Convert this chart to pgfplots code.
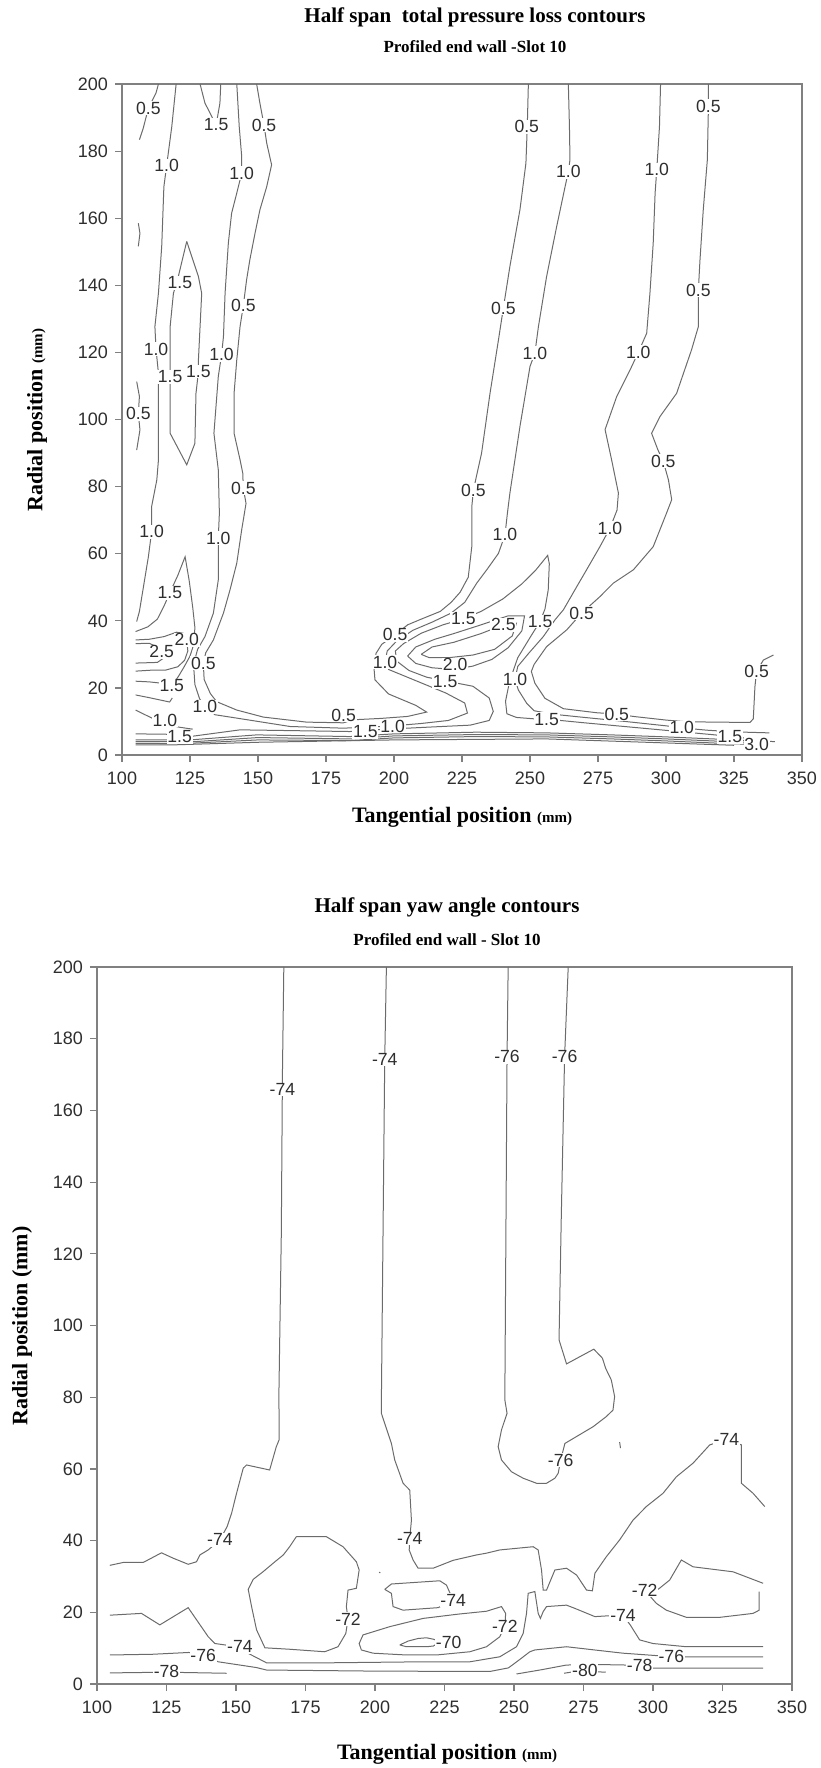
\documentclass[border=0pt]{standalone}
\usepackage{fontspec}
\setmainfont{Liberation Serif}
\newfontfamily\arial{Liberation Sans}
\usepackage{pgfplots}
\pgfplotsset{compat=1.18}
\definecolor{cline}{gray}{0.42}
\definecolor{axgray}{gray}{0.50}
\definecolor{txt}{gray}{0.18}
\pgfplotsset{
  cl/.style={cline, line width=0.5pt, mark=none},
  chart/.style={scale only axis, xmin=100, xmax=350, ymin=0, ymax=200,
    xtick={100,125,...,350}, ytick={0,20,...,200},
    xtick pos=bottom, ytick pos=left,
    tick align=outside, major tick length=3.5pt,
    axis line style={axgray, line width=0.6pt},
    every tick/.style={axgray, line width=0.6pt},
    ticklabel style={font=\arial\fontsize{9}{10}\selectfont, text=txt},
    xticklabel style={yshift=-1.5pt},
    /pgf/number format/assume math mode=true,
    clip=false},
}
\tikzset{lbl/.style={font=\arial\fontsize{8.8}{9}\selectfont, text=txt, fill=white, inner sep=0.4pt}}
\newcommand\lab[3]{\node[lbl] at (axis cs:#1,#2) {#3};}
\begin{document}
\begin{tikzpicture}
\useasboundingbox (0,0) rectangle (410pt,-884pt);
% ---------- top chart ----------
\node[font=\bfseries\fontsize{10.5}{12}\selectfont] at (237.5pt,-8.5pt) {Half span\ \ total pressure loss contours};
\node[font=\bfseries\fontsize{8.5}{10}\selectfont] at (237.5pt,-23.5pt) {Profiled end wall -Slot 10};
\begin{axis}[chart, at={(61pt,-377.5pt)}, anchor=south west, width=340pt, height=335.5pt]
% left region
\addplot[cl] coordinates {(113.4,200)(112.5,197.3)(109.7,192.8)(107.8,186.8)(106.4,183.4)};
\addplot[cl] coordinates {(106,158.5)(106.6,155.5)(106,151.6)};
\addplot[cl] coordinates {(105.4,111.3)(106.4,106.9)(106,101.7)(106.6,96.9)(105.4,90.9)};
\addplot[cl] coordinates {(119.9,200)(118.3,187.3)(116.4,175.6)(115.4,169.4)(114.6,151.6)(113.4,137.7)(112.1,127.7)(112.5,121)(113.4,113.8)(113.4,88)(112.8,82)(110.9,74.1)(110.9,66.6)(109.7,59.1)(107.9,50.2)(106.4,42.8)(105.4,39.8)};
\addplot[cl] coordinates {(128.7,200)(130.5,194.3)(134.6,187.8)(136,194.3)(136.3,200)};
\addplot[cl] coordinates {(123.8,153.1)(128.1,142.6)(129.3,137.6)(128.7,127.7)(128.1,117.8)(128.1,114.3)(127.2,107.8)(126.8,92.9)(123.8,86.5)(117.7,95.9)(117.7,107.8)(117.7,112.8)(117.7,127.7)(118.9,137.6)(120.7,142.6)(123.8,153.1)};
% 1.0 long
\addplot[cl] coordinates {(142.2,200)(143.1,187.3)(144,178.4)(144,173.4)(142.2,167.5)(140.3,161.5)(139.1,152.6)(137.9,137.7)(137.3,124.7)(136.6,119.3)(135.4,112.8)(133.8,95.9)(135.4,85)(135.8,72.1)(135.4,64.6)(135.4,52.2)(133.6,42.3)(130.5,35.3)(127.8,31.5)(126.3,27)(126.8,21)(128.5,16.8)(130.5,14.4)(134.2,12)(142.2,11)(161.8,8.5)(181.4,8)(190,8.3)(198.5,8.6)(210,9.4)(220,10.3)(227,12.5)(226,15.5)(219,18.5)(207,22.5)(198,25.5)(196.7,27.6)(197.5,31)(201,34)(207,37.2)(214,39.6)(221,42.3)(226,45.5)(230.4,51.2)(234.1,55.2)(238.4,60.1)(240.8,65.6)(241.7,72.1)(242.6,78)(246.3,97.9)(250,115.8)(251.8,119.8)(253.1,127.7)(256.1,142.6)(259.8,157.5)(262.9,169.4)(264.1,173.9)(264.7,177.4)(264.5,187.3)(264.1,200)};
% 0.5 long
\addplot[cl] coordinates {(149.5,200)(150.7,194.3)(152.2,187.8)(153.2,182.4)(155,175.9)(153.2,169.4)(150.7,162.5)(148.9,155.5)(147,147.6)(145.8,141.6)(144.6,133.9)(143.4,127.7)(142.2,117.8)(141.2,107.8)(141.2,95.9)(143.4,88)(144.4,84)(144.6,79.5)(145.6,75)(144,67.1)(142.2,57.2)(139.7,49.2)(137.3,42.3)(133.6,34.3)(130.8,30.5)(129.9,27.4)(130.2,22.5)(132.5,18.3)(134.8,15.9)(142.2,13.4)(152,11.3)(167.9,9.8)(181.4,9.6)(185,10.5)(195,10.9)(205,11.5)(212,12.8)(208,14.8)(198,18.2)(193,22.4)(192.6,26.4)(193.4,30.3)(195.5,33)(200.4,35.8)(205,38.8)(210,40.5)(217,42.8)(221,45.5)(224.3,48.5)(227.3,53)(228.6,62.1)(228.6,74)(229.2,79)(232.2,90)(235.3,107.8)(238.4,123.7)(240.2,133.2)(242.6,145.6)(246.3,162.5)(248.5,176.4)(249,187.3)(249.4,200)};
% 1.5 long
\addplot[cl] coordinates {(105,6.3)(116,6.2)(120.1,6)(125,5.5)(143.4,7.5)(160,7.3)(183.8,7)(188.7,7.3)(200,7.8)(215,8.4)(228,8.9)(235,10.3)(236.5,13)(235,17)(229,20.5)(219.4,22)(212,23.2)(205.5,25.2)(201,28)(200.5,31)(203.5,33.2)(210,36.3)(218,38.8)(225.5,40.6)(232,42.8)(240,46.5)(247,51)(252,55)(256.5,59.5)(257.1,57)(256.7,49.2)(255.5,43.5)(253.7,39.8)(250,35)(245.5,29)(242.5,22)(241,16)(241.5,12.3)(245,11.2)(251.2,10.8)(256.1,10.7)(270,9.6)(290,8.1)(310,6.6)(318,6)(323.5,5.5)(330,5)(338,4.7)};
% cores
\addplot[cl] coordinates {(205,29.5)(208,32.2)(215,34.5)(222,36.2)(232,38.8)(242,41.5)(248,41.5)(247,37)(242,32)(236,28.5)(229,26.5)(222,25.5)(214,26)(208,27.3)(205,29.5)};
\addplot[cl] coordinates {(210,30)(214,32.2)(222,33.6)(232,36.2)(240.2,38.8)(245,39.3)(243.5,35.5)(237,31.5)(229,29.8)(220,29)(213,29)(210,30)};
\addplot[cl] coordinates {(105,36.8)(109.5,38.2)(113,40.5)(115.5,44.5)(117.6,48.4)(120.5,53.5)(123.2,59.1)(124.7,52)(126,44)(126.8,38)(126.4,33)(125,29.5)(123,26.5)(120.8,23.5)(118.3,20.6)(114.6,21.4)(110,21.8)(105,22)};
\addplot[cl] coordinates {(105,34.3)(110,34.5)(115.5,35.3)(120,36.6)(122.5,36.3)(123.8,34.3)(124.2,31)(123,28.2)(120.5,26.3)(116,25.3)(111,25.3)(105,25)};
\addplot[cl] coordinates {(105,33.2)(110,33.3)(113,32.2)(114.6,30.8)(115.5,29)(113,27.6)(105,27.4)};
\addplot[cl] coordinates {(105,17.9)(110,17.1)(114.6,16.3)(117.5,15.8)(118.5,17)};
\addplot[cl] coordinates {(105,13.4)(109.5,11.6)(113,10.2)(117,9)(121,8.3)(126,7.7)};
% 1.0 right
\addplot[cl] coordinates {(298,200)(297.6,187.3)(296.6,174.4)(296,167.5)(295.3,152.6)(294.1,137.7)(292.9,125.7)(289.8,120)(286.8,114.8)(281.9,106.9)(277.6,97)(280,88)(282.5,78.1)(282,73)(279.4,67.6)(275.7,62.1)(270.8,55.2)(267.2,50.2)(262.3,43.3)(259.2,40.3)(254.9,35.3)(249.5,30.3)(245.5,26.4)(244.5,22.6)(245.7,19.4)(248.8,15.4)(251.5,13.2)(258,12.2)(270,11.2)(285,10)(300,8.7)(305.8,8.1)(315,7.4)(325,6.9)(338,6.6)};
% 0.5 right
\addplot[cl] coordinates {(315.6,200)(315.6,193.3)(315.2,177.4)(313.7,162.5)(312.5,147.6)(311.9,138.6)(311.9,127.7)(309.4,120.8)(303.9,107.8)(297.8,100.9)(294.7,95.9)(297,91)(299,87.5)(300.9,82)(302.1,76.1)(300.2,72.1)(295.3,62.1)(288,55.2)(280.6,51.2)(275.7,47.2)(269,42.3)(263.5,37.3)(256.1,32.3)(251.5,27)(250.5,24.9)(251.8,21.4)(255.5,16.9)(262.3,13.8)(274.5,12.6)(281.9,12.2)(288,11.5)(300.2,10.4)(307.6,9.9)(330.9,9.7)(332.1,10.8)(332.7,20.4)(333.3,24.9)(335.8,28.3)(339.5,29.8)};
% bottom band
\addplot[cl] coordinates {(105,4.5)(118,4.5)(125,4.5)(149.5,6)(183.8,5.5)(200,6.3)(230,6.8)(256,6.6)(280,6.0)(300,5.4)(320,4.7)(333,4.2)(340,4.0)};
\addplot[cl] coordinates {(105,4.0)(118,4.0)(125,3.9)(150,5.2)(183.8,4.8)(200,5.7)(230,6.1)(256,6.0)(280,5.4)(300,4.8)(320,4.1)(333,3.7)};
\addplot[cl] coordinates {(105,3.5)(118,3.4)(125,3.5)(150,4.5)(183.8,4.3)(200,5.1)(230,5.5)(256,5.4)(280,4.8)(300,4.2)(320,3.5)(330,3.2)};
\addplot[cl] coordinates {(105,3.0)(118,3.0)(150,3.8)(200,4.5)(256,4.8)(300,3.6)(325,2.9)};
% labels 0.5
\lab{109.7}{192.8}{0.5}\lab{106}{101.7}{0.5}\lab{152.2}{187.8}{0.5}\lab{144.6}{133.9}{0.5}
\lab{144.6}{79.5}{0.5}\lab{129.9}{27.4}{0.5}\lab{181.5}{11.9}{0.5}\lab{200.4}{35.8}{0.5}
\lab{229.2}{79}{0.5}\lab{240.2}{133.2}{0.5}\lab{248.8}{187.3}{0.5}\lab{315.6}{193.3}{0.5}
\lab{311.9}{138.6}{0.5}\lab{299}{87.5}{0.5}\lab{269}{42.3}{0.5}\lab{281.9}{12.2}{0.5}\lab{333.3}{24.9}{0.5}
% labels 1.0
\lab{116.4}{175.6}{1.0}\lab{112.5}{121}{1.0}\lab{110.9}{66.6}{1.0}\lab{144}{173.4}{1.0}
\lab{136.6}{119.3}{1.0}\lab{135.4}{64.6}{1.0}\lab{130.5}{14.4}{1.0}\lab{115.8}{10.4}{1.0}
\lab{199.5}{8.6}{1.0}\lab{196.7}{27.6}{1.0}\lab{240.8}{65.6}{1.0}\lab{251.8}{119.8}{1.0}
\lab{264.1}{173.9}{1.0}\lab{296.6}{174.4}{1.0}\lab{289.8}{120}{1.0}\lab{279.4}{67.6}{1.0}
\lab{244.5}{22.6}{1.0}\lab{305.8}{8.1}{1.0}
% labels 1.5 and above
\lab{134.6}{187.8}{1.5}\lab{121.3}{140.8}{1.5}\lab{117.7}{112.8}{1.5}\lab{128.1}{114.3}{1.5}
\lab{117.6}{48.4}{1.5}\lab{118.3}{20.6}{1.5}\lab{121.2}{5.5}{1.5}\lab{189.5}{6.9}{1.5}
\lab{225.5}{40.6}{1.5}\lab{253.7}{39.8}{1.5}\lab{218.8}{21.8}{1.5}\lab{256.1}{10.7}{1.5}\lab{323.5}{5.5}{1.5}
\lab{123.8}{34.3}{2.0}\lab{114.6}{30.8}{2.5}\lab{222.5}{26.9}{2.0}\lab{240.2}{38.8}{2.5}\lab{333.3}{3.3}{3.0}
\end{axis}
\node[font=\bfseries\fontsize{11}{12}\selectfont] at (231pt,-408.5pt) {Tangential position {\fontsize{7.5}{9}\selectfont (mm)}};
\node[font=\bfseries\fontsize{11}{12}\selectfont, rotate=90] at (18.5pt,-210pt) {Radial position {\fontsize{7.5}{9}\selectfont (mm)}};
% ---------- bottom chart ----------
\node[font=\bfseries\fontsize{10.5}{12}\selectfont] at (223.5pt,-453.5pt) {Half span yaw angle contours};
\node[font=\bfseries\fontsize{8.5}{10}\selectfont] at (223.5pt,-470pt) {Profiled end wall - Slot 10};
\begin{axis}[chart, at={(48.5pt,-842pt)}, anchor=south west, width=347.5pt, height=358.5pt]
\addplot[cl] coordinates {(167.2,200)(166.7,170)(166.3,125.7)(165.4,79.2)(165.5,75.5)(165.5,68.1)(164.5,66.2)(162.1,59.7)(153.8,61.1)(152.6,60.2)(150.2,53.2)(148.4,47.6)(146.8,43.9)(144.2,40.2)(140,37.4)(137,36)(135.8,34.1)(132.8,33.4)(127.4,35.1)(123.2,36.6)(116.6,33.9)(109.4,33.9)(104.6,33.1)};
\addplot[cl] coordinates {(204.1,200)(203.5,174.2)(202.3,79.3)(202.3,75.5)(205.9,67.1)(207.1,62.5)(210.1,56)(212.5,54.1)(213.1,45.7)(212.5,40.6)(212.3,37.4)(213.7,34.6)(215.5,32.3)(220.9,32.3)(228.1,34.5)(236.5,36)(240.1,36.5)(244.9,37.4)(256.9,38.3)(258.7,37.4)(259.9,31.8)(260.5,26.2)(261.7,26.2)(264.7,31.8)(268.9,32.3)(272.5,30.4)(276.1,26.2)(278.2,26)(279.1,30.9)(283.2,35.5)(288,40.2)(292.8,45.7)(297.6,49.5)(303.6,53.2)(308.4,57.8)(314.4,61.6)(320.4,66.7)(326.4,68.2)(331.8,66.7)(331.8,56)(336,53.2)(340.2,49.5)};
\addplot[cl] coordinates {(247.9,200)(247.5,175)(246.7,79.3)(247.5,75.5)(245.5,70.9)(244.3,66.2)(245.5,62.5)(249.1,59.2)(253.3,57.4)(258.1,56)(261.7,56)(264.7,57.4)(265.9,58.8)(266.8,62.5)(268.3,67.1)(278.5,71.8)(283.2,74.6)(285.6,76.4)(286.2,80.2)(285,84.8)(283,88)(281.8,90.9)(278.7,93.4)(268.9,89.3)(266.2,96)(267,130)(268.2,175)(269.5,200)};
\addplot[cl] coordinates {(171.7,41.1)(182.5,41.1)(188.5,38.3)(193.3,34.1)(194.3,31.8)(193.3,26.7)(190.3,26.2)(189.7,21.6)(190.3,18.1)(189.5,14.1)(186.7,10.4)(181.9,9)(169.3,9.7)(160.4,10.1)(157.4,15.1)(155.6,21.6)(154.4,26.4)(156.2,29.2)(159.7,31.3)(164,34.1)(167,36)(169.3,38.3)(171.7,41.1)};
\addplot[cl] coordinates {(203.5,26.4)(205.9,27.9)(223.3,28.8)(225.7,27.6)(228.1,23.4)(222.7,21.3)(210.1,20.6)(206.5,21.6)(205.9,25.3)(203.5,26.4)};
\addplot[cl] coordinates {(194.3,11.3)(195.7,13.7)(205.3,16)(217.3,18.3)(230,19.5)(240.1,20.3)(245.5,21.6)(247,19.7)(246.7,16)(244.9,13.2)(240.1,10.4)(234.1,9)(222.1,8.1)(211.3,8.1)(199.3,8.6)(195.1,9.5)(194.3,11.3)};
\addplot[cl] coordinates {(208.9,10.9)(212,12)(215.5,12.7)(218.5,12.9)(221,12.5)(223.5,11.8)(221,10.6)(218.5,10.4)(211.3,10.4)(208.9,10.9)};
\addplot[cl] coordinates {(104.6,19.2)(116,19.7)(122.6,16.5)(132.8,21.3)(140,13.2)(142.4,11.3)(147,10.8)(151.4,10.4)(154.5,8.5)(156.8,7.6)(161,5.9)(181.3,5.9)(217.3,6.2)(234.1,6.2)(244.9,7.6)(250.9,10.4)(253.3,14.1)(254.5,19.7)(255.1,25.3)(257.5,25.8)(258.7,19.7)(259.5,18.3)(260.5,20.2)(261.7,21.6)(268.9,22)(271.9,21.1)(279.1,18.8)(283.3,19)(289.2,19.2)(291.8,16.5)(295.2,12.3)(300,11.3)(312,10.4)(339.6,10.4)};
\addplot[cl] coordinates {(104.6,8.1)(120,8.3)(133,8.8)(138.2,8.1)(143.6,6.2)(157.3,4.6)(161,3.9)(200,3.6)(241.3,3.5)(248,4.5)(252,6.8)(255.7,9)(257.5,9.5)(268.9,10.4)(279,9.5)(289.2,8.6)(300,8)(306.6,7.6)(312,7.6)(339.6,7.6)};
\addplot[cl] coordinates {(104.6,3.1)(125,3.3)(146.6,3)};
\addplot[cl] coordinates {(250.9,2.8)(260,4)(268.9,5.3)(283,5.4)(290,5.3)(295.2,5.2)(300,4.4)(339.6,4.4)};
\addplot[cl] coordinates {(268,3.0)(272,3.5)(275.5,3.7)(280,3.4)(283,3.3)};
\addplot[cl] coordinates {(339.6,28.1)(328.8,31.3)(314.4,32.7)(310.2,34.6)(306,29)(302,26.5)(297,26.2)(301.2,22.5)(304.8,20.6)(312,18.6)(324,18.6)(336,19.7)(338.2,20.6)(338.2,25.8)};
\addplot[cl] coordinates {(288,67.5)(288.3,65.8)};
\addplot[cl] coordinates {(201.5,31.2)(201.9,31)};
\lab{166.7}{165.8}{-74}\lab{203.5}{174.2}{-74}\lab{247.5}{175}{-76}\lab{268.2}{175}{-76}
\lab{266.8}{62.5}{-76}\lab{326.4}{68.2}{-74}\lab{144.2}{40.2}{-74}\lab{212.5}{40.6}{-74}
\lab{228.1}{23.4}{-74}\lab{190.3}{18.1}{-72}\lab{226.5}{11.7}{-70}\lab{246.7}{16}{-72}
\lab{297}{26.2}{-72}\lab{289.2}{19.2}{-74}\lab{138.2}{8.1}{-76}\lab{151.4}{10.4}{-74}
\lab{125}{3.4}{-78}\lab{275.5}{3.7}{-80}\lab{295.2}{5.2}{-78}\lab{306.6}{7.6}{-76}
\end{axis}
\node[font=\bfseries\fontsize{11}{12}\selectfont] at (223.5pt,-877pt) {Tangential position {\fontsize{7.5}{9}\selectfont (mm)}};
\node[font=\bfseries\fontsize{11}{12}\selectfont, rotate=90] at (11pt,-663pt) {Radial position (mm)};
\end{tikzpicture}
\end{document}
